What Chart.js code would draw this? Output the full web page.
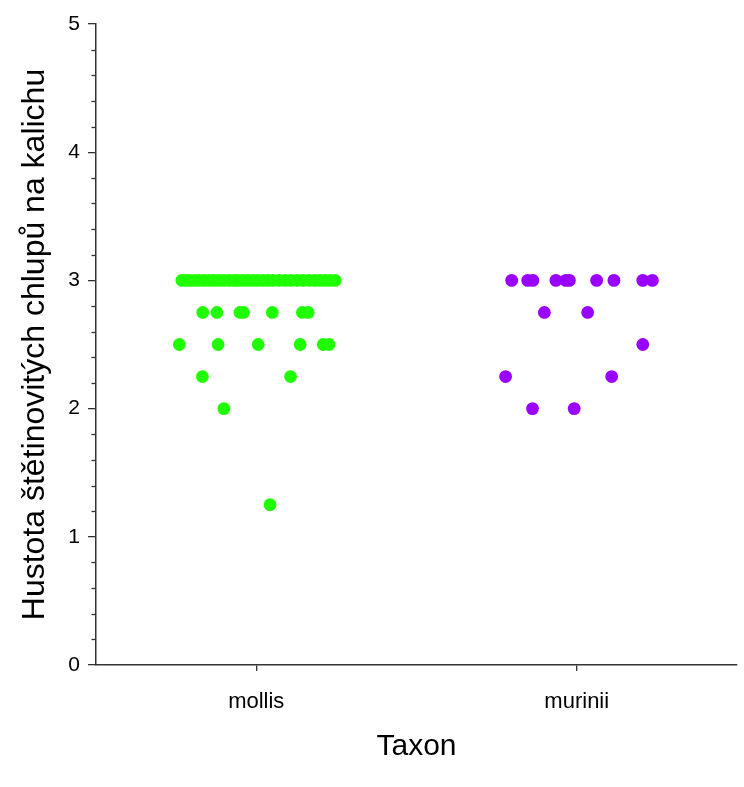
<!DOCTYPE html>
<html>
<head>
<meta charset="utf-8">
<script src="https://cdn.jsdelivr.net/npm/chart.js@4.4.1/dist/chart.umd.min.js"></script>
<style>
  body { margin: 0; background: #fff; }
  canvas { display: block; }
</style>
</head>
<body>
<canvas id="chartTaxon" width="744" height="787"></canvas>
<script>
// categories on the x axis
const taxa = ['mollis', 'murinii'];

// mollis: values and horizontal jitter (in category units)
const mollisValues = [
  3, 3, 3, 3, 3, 3, 3, 3, 3, 3, 3, 3, 3, 3, 3, 3,
  3, 3, 3, 3, 3, 3, 3, 3, 3, 3, 3, 3, 3, 3, 3,
  2.75, 2.75, 2.75, 2.75, 2.75, 2.75, 2.75,
  2.5, 2.5, 2.5, 2.5, 2.5, 2.5,
  2.25, 2.25,
  2,
  1.25
];
const mollisJitter = [
  -0.232, -0.219, -0.207, -0.191, -0.178, -0.163, -0.147, -0.132, -0.116, -0.101, -0.085, -0.069, -0.057, -0.041, -0.026, -0.010,
  0.005, 0.021, 0.037, 0.052, 0.071, 0.090, 0.108, 0.128, 0.146, 0.165, 0.183, 0.199, 0.215, 0.230, 0.246,
  -0.167, -0.123, -0.051, -0.040, 0.050, 0.144, 0.162,
  -0.240, -0.119, 0.006, 0.137, 0.209, 0.227,
  -0.168, 0.107,
  -0.101,
  0.043
];

// murinii: values and horizontal jitter
const muriniiValues = [
  3, 3, 3, 3, 3, 3, 3, 3, 3, 3,
  2.75, 2.75,
  2.5,
  2.25, 2.25,
  2, 2
];
const muriniiJitter = [
  -0.203, -0.153, -0.137, -0.065, -0.034, -0.023, 0.062, 0.116, 0.206, 0.236,
  -0.101, 0.034,
  0.206,
  -0.222, 0.109,
  -0.138, -0.008
];

// y axis ticks
const yTicks = [0, 1, 2, 3, 4, 5];

const axisColor = '#333333';
const fontFamily = '"Liberation Sans", Arial, sans-serif';

function toPoints(catIndex, values, jitter) {
  return values.map((v, i) => ({ x: catIndex + 0.5 + jitter[i], y: v }));
}

// small ticks between the labelled ones on the y axis
const minorTicks = {
  id: 'minorTicks',
  afterDraw(chart) {
    const ys = chart.scales.y;
    const ctx = chart.ctx;
    ctx.save();
    ctx.strokeStyle = axisColor;
    ctx.lineWidth = 1.3;
    for (let k = 0; k <= 25; k++) {
      if (k % 5 === 0) continue;
      const py = Math.round(ys.getPixelForValue(k / 5)) + 0.5;
      ctx.beginPath();
      ctx.moveTo(ys.right - 4.5, py);
      ctx.lineTo(ys.right, py);
      ctx.stroke();
    }
    ctx.restore();
  }
};

const ctx = document.getElementById('chartTaxon').getContext('2d');
new Chart(ctx, {
  type: 'scatter',
  data: {
    datasets: [
      {
        label: taxa[0],
        data: toPoints(0, mollisValues, mollisJitter),
        backgroundColor: '#20ff00',
        borderWidth: 0,
        pointRadius: 6.4
      },
      {
        label: taxa[1],
        data: toPoints(1, muriniiValues, muriniiJitter),
        backgroundColor: '#9900ff',
        borderWidth: 0,
        pointRadius: 6.4
      }
    ]
  },
  options: {
    responsive: false,
    animation: false,
    layout: { padding: { left: 0, right: 7, top: 24, bottom: 0 } },
    plugins: {
      legend: { display: false },
      tooltip: { enabled: false }
    },
    scales: {
      x: {
        type: 'linear',
        min: 0,
        max: taxa.length,
        afterBuildTicks: scale => {
          scale.ticks = taxa.map((t, i) => ({ value: i + 0.5 }));
        },
        afterFit: scale => { scale.height = 122; },
        ticks: {
          callback: (value) => taxa[Math.round(value - 0.5)],
          color: '#000',
          font: { family: fontFamily, size: 22 },
          padding: 18,
          maxRotation: 0,
          autoSkip: false
        },
        grid: {
          drawOnChartArea: false,
          drawTicks: true,
          tickLength: 6,
          color: axisColor,
          lineWidth: 1.3
        },
        border: { display: true, color: axisColor, width: 1.5 },
        title: {
          display: true,
          text: 'Taxon',
          color: '#000',
          font: { family: fontFamily, size: 30 },
          padding: { top: 0, bottom: 22 }
        }
      },
      y: {
        min: 0,
        max: 5,
        afterBuildTicks: scale => {
          scale.ticks = yTicks.map(v => ({ value: v }));
        },
        afterFit: scale => { scale.width = 96; },
        ticks: {
          color: '#000',
          font: { family: fontFamily, size: 21 },
          padding: 8
        },
        grid: {
          drawOnChartArea: false,
          drawTicks: true,
          tickLength: 8,
          color: axisColor,
          lineWidth: 1.3
        },
        border: { display: true, color: axisColor, width: 1.5 },
        title: {
          display: true,
          text: 'Hustota štětinovitých chlupů na kalichu',
          color: '#000',
          font: { family: fontFamily, size: 32 },
          padding: { top: 16, bottom: 0 }
        }
      }
    }
  },
  plugins: [minorTicks]
});
</script>
</body>
</html>
